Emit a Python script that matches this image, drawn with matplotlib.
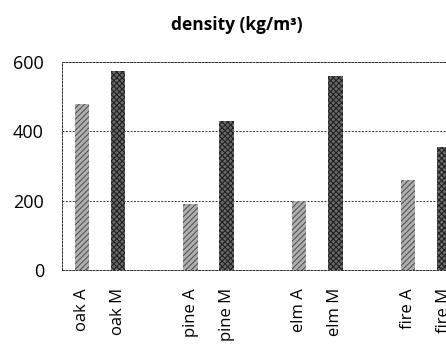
import matplotlib
matplotlib.use('Agg')
import matplotlib.pyplot as plt

woods = ['oak', 'pine', 'elm', 'fire']
labels = ['oak A', 'oak M', 'pine A', 'pine M', 'elm A', 'elm M', 'fire A', 'fire M']
density_A = [480, 190, 200, 260]
density_M = [575, 430, 560, 355]

plt.rcParams['font.family'] = ['Open Sans', 'DejaVu Sans']
plt.rcParams['hatch.linewidth'] = 0.8

fig = plt.figure(figsize=(4.46, 3.46), dpi=100)
ax = fig.add_axes([0.139, 0.2197, 0.897, 0.6011])

pos_A = [i * 3 for i in range(len(woods))]
pos_M = [i * 3 + 1 for i in range(len(woods))]

ax.bar(pos_A, density_A, width=0.4, color='#b0b0b0', edgecolor='#555555',
       hatch='//////', linewidth=0, zorder=3)
ax.bar(pos_M, density_M, width=0.4, color='#6a6a6a', edgecolor='#222222',
       hatch='xxxxxx', linewidth=0, zorder=3)

ax.set_xlim(-0.55, 10.5)
ax.set_ylim(0, 600)
ax.set_yticks([0, 200, 400, 600])
ax.yaxis.grid(True, linestyle=(0, (2, 1.5)), color='#333333', linewidth=0.7, zorder=1)

ticks = []
for p, q in zip(pos_A, pos_M):
    ticks += [p, q]
ax.set_xticks(ticks)
ax.set_xticklabels(labels, rotation=90, fontsize=12)
ax.tick_params(axis='x', length=0, pad=13)
ax.tick_params(axis='y', length=0, labelsize=13, pad=13)

# dotted frame like the scanned original
for s in ['top', 'left', 'bottom']:
    ax.spines[s].set_linestyle((0, (2, 1.5)))
    ax.spines[s].set_linewidth(0.7)
    ax.spines[s].set_color('#333333')
ax.spines['right'].set_visible(False)

fig.text(0.530, 0.928, 'density (kg/m³)', ha='center', va='center',
         fontsize=12.5, fontweight='bold')

fig.savefig('out.png', dpi=100)
